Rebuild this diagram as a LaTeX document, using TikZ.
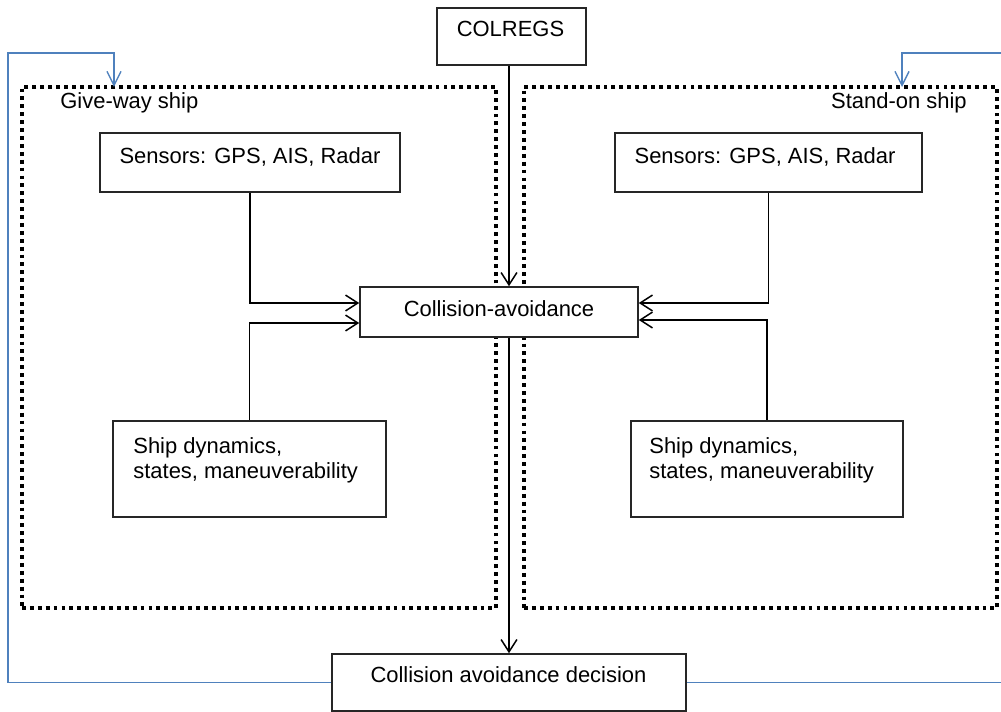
\documentclass[tikz,border=0pt]{standalone}
\usepackage{fontspec}
\setmainfont{Liberation Sans}
\usetikzlibrary{arrows.meta,calc,fit}
\definecolor{fbblue}{RGB}{79,129,189}

\begin{document}
\begin{tikzpicture}[x=0.02cm, y=-0.02cm,
    font=\fontsize{12.5}{14.2}\selectfont,
    box/.style={draw=black!85, fill=white, line width=0.9pt, inner sep=0pt},
    txt/.style={inner sep=0pt},
    shipframe/.style={draw, line width=1.8pt, dash pattern=on 2.2pt off 2.3pt, inner sep=0pt},
    arr/.style={line width=0.85pt, -{Straight Barb[length=7pt,width=9pt]}},
    feedback/.style={draw=fbblue, line width=0.8pt, -{Straight Barb[length=8pt,width=8pt]}}]
        \useasboundingbox (0,0) rectangle (1001,712);
        % the two ships
        \node[shipframe, fit={(22,87) (496,608)}]  (giveway) {};
        \node[shipframe, fit={(524,87) (997,608)}] (standon) {};
        \node[txt, anchor=base west] (giveway-t) at (60,109)  {Give-way ship};
        \node[txt, anchor=base east] (standon-t) at (967,109) {Stand-on ship};
        % boxes
        \node[box, fit={(437,8) (586,65)}]    (colregs) {};
        \node[box, fit={(100,133) (400,192)}] (sensL) {};
        \node[box, fit={(615,133) (922,192)}] (sensR) {};
        \node[box, fit={(360,287) (638,337)}] (coll) {};
        \node[box, fit={(113,421) (386,517)}] (dynL) {};
        \node[box, fit={(631,421) (903,517)}] (dynR) {};
        \node[box, fit={(332,654) (686,711)}] (dec) {};
        \node[txt, anchor=base] (colregs-t) at (510.5,37) {COLREGS};
        \node[txt, anchor=base] (sensL-t) at (250,164) {Sensors: GPS, AIS, Radar};
        \node[txt, anchor=base] (sensR-t) at (765,164) {Sensors: GPS, AIS, Radar};
        \node[txt, anchor=base] (coll-t) at (499,317) {Collision-avoidance};
        \node[txt, anchor=north west, align=left] (dynL-t) at (133,437) {Ship dynamics,\\states, maneuverability};
        \node[txt, anchor=north west, align=left] (dynR-t) at (649,437) {Ship dynamics,\\states, maneuverability};
        \node[txt, anchor=base] (dec-t) at (508.5,683) {Collision avoidance decision};
        % connectors
        \draw[arr] (colregs.south -| dec.north) -- (coll.north -| dec.north);
        \draw[arr] (coll.south -| dec.north) -- (dec.north);
        \draw[arr] (sensL.south) |- ($(coll.west)+(0,-9)$);
        \draw[arr] (dynL.north) |- ($(coll.west)+(0,11)$);
        \draw[arr] (sensR.south) |- ($(coll.east)+(0,-9)$);
        \draw[arr] (dynR.north) |- ($(coll.east)+(0,8)$);
        % feedback to the ships
        \coordinate (gwin) at (114,87);
        \coordinate (soin) at (902,87);
        \draw[feedback] (dec.west) -| (8,53) -| (gwin);
        \draw[feedback] (dec.east) -| (1010,53) -| (soin);
\end{tikzpicture}
\end{document}
